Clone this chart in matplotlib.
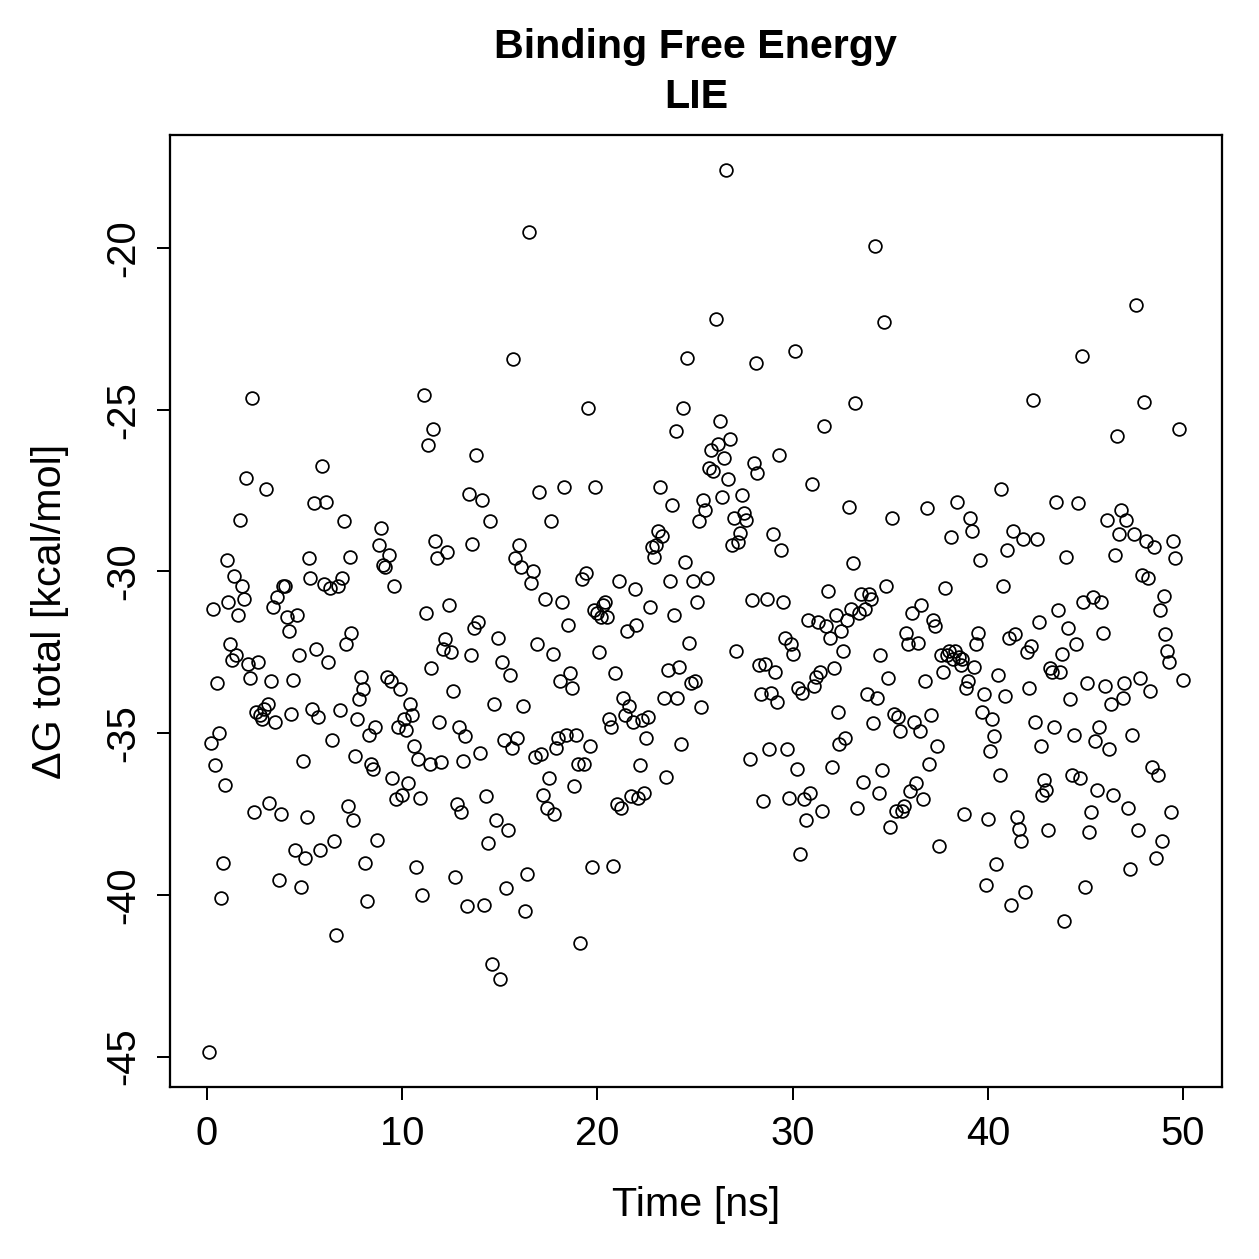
import matplotlib
matplotlib.use("Agg")
import matplotlib.pyplot as plt

plt.rcParams['font.family'] = ['Liberation Sans', 'DejaVu Sans']

# time (ns) and LIE binding free energy (kcal/mol)
time = [0.1, 0.2, 0.3, 0.4, 0.5, 0.6, 0.7, 0.8, 0.9, 1.0,
        1.1, 1.2, 1.3, 1.4, 1.5, 1.6, 1.7, 1.8, 1.9, 2.0,
        2.1, 2.2, 2.3, 2.4, 2.5, 2.6, 2.7, 2.8, 2.9, 3.0,
        3.1, 3.2, 3.3, 3.4, 3.5, 3.6, 3.7, 3.8, 3.9, 4.0,
        4.1, 4.2, 4.3, 4.4, 4.5, 4.6, 4.7, 4.8, 4.9, 5.0,
        5.1, 5.2, 5.3, 5.4, 5.5, 5.6, 5.7, 5.8, 5.9, 6.0,
        6.1, 6.2, 6.3, 6.4, 6.5, 6.6, 6.7, 6.8, 6.9, 7.0,
        7.1, 7.2, 7.3, 7.4, 7.5, 7.6, 7.7, 7.8, 7.9, 8.0,
        8.1, 8.2, 8.3, 8.4, 8.5, 8.6, 8.7, 8.8, 8.9, 9.0,
        9.1, 9.2, 9.3, 9.4, 9.5, 9.6, 9.7, 9.8, 9.9, 10.0,
        10.1, 10.2, 10.3, 10.4, 10.5, 10.6, 10.7, 10.8, 10.9, 11.0,
        11.1, 11.2, 11.3, 11.4, 11.5, 11.6, 11.7, 11.8, 11.9, 12.0,
        12.1, 12.2, 12.3, 12.4, 12.5, 12.6, 12.7, 12.8, 12.9, 13.0,
        13.1, 13.2, 13.3, 13.4, 13.5, 13.6, 13.7, 13.8, 13.9, 14.0,
        14.1, 14.2, 14.3, 14.4, 14.5, 14.6, 14.7, 14.8, 14.9, 15.0,
        15.1, 15.2, 15.3, 15.4, 15.5, 15.6, 15.7, 15.8, 15.9, 16.0,
        16.1, 16.2, 16.3, 16.4, 16.5, 16.6, 16.7, 16.8, 16.9, 17.0,
        17.1, 17.2, 17.3, 17.4, 17.5, 17.6, 17.7, 17.8, 17.9, 18.0,
        18.1, 18.2, 18.3, 18.4, 18.5, 18.6, 18.7, 18.8, 18.9, 19.0,
        19.1, 19.2, 19.3, 19.4, 19.5, 19.6, 19.7, 19.8, 19.9, 20.0,
        20.1, 20.2, 20.3, 20.4, 20.5, 20.6, 20.7, 20.8, 20.9, 21.0,
        21.1, 21.2, 21.3, 21.4, 21.5, 21.6, 21.7, 21.8, 21.9, 22.0,
        22.1, 22.2, 22.3, 22.4, 22.5, 22.6, 22.7, 22.8, 22.9, 23.0,
        23.1, 23.2, 23.3, 23.4, 23.5, 23.6, 23.7, 23.8, 23.9, 24.0,
        24.1, 24.2, 24.3, 24.4, 24.5, 24.6, 24.7, 24.8, 24.9, 25.0,
        25.1, 25.2, 25.3, 25.4, 25.5, 25.6, 25.7, 25.8, 25.9, 26.1,
        26.2, 26.3, 26.4, 26.5, 26.6, 26.7, 26.8, 26.9, 27.0, 27.1,
        27.2, 27.3, 27.4, 27.5, 27.6, 27.8, 27.9, 28.0, 28.1, 28.2,
        28.3, 28.4, 28.5, 28.6, 28.7, 28.8, 28.9, 29.0, 29.1, 29.2,
        29.3, 29.4, 29.5, 29.6, 29.7, 29.8, 29.9, 30.0, 30.1, 30.2,
        30.3, 30.4, 30.5, 30.6, 30.7, 30.8, 30.9, 31.0, 31.1, 31.2,
        31.3, 31.4, 31.5, 31.6, 31.7, 31.8, 31.9, 32.0, 32.1, 32.2,
        32.3, 32.4, 32.5, 32.6, 32.7, 32.8, 32.9, 33.0, 33.1, 33.2,
        33.3, 33.4, 33.5, 33.6, 33.7, 33.8, 33.9, 34.0, 34.1, 34.2,
        34.3, 34.4, 34.5, 34.6, 34.7, 34.8, 34.9, 35.0, 35.1, 35.2,
        35.3, 35.4, 35.5, 35.6, 35.7, 35.8, 35.9, 36.0, 36.1, 36.2,
        36.3, 36.4, 36.5, 36.6, 36.7, 36.8, 36.9, 37.0, 37.1, 37.2,
        37.3, 37.4, 37.5, 37.6, 37.7, 37.8, 37.9, 38.0, 38.1, 38.2,
        38.3, 38.4, 38.5, 38.6, 38.7, 38.8, 38.9, 39.0, 39.1, 39.2,
        39.3, 39.4, 39.5, 39.6, 39.7, 39.8, 39.9, 40.0, 40.1, 40.2,
        40.3, 40.4, 40.5, 40.6, 40.7, 40.8, 40.9, 41.0, 41.1, 41.2,
        41.3, 41.4, 41.5, 41.6, 41.7, 41.8, 41.9, 42.0, 42.1, 42.2,
        42.3, 42.4, 42.5, 42.6, 42.7, 42.8, 42.9, 43.0, 43.1, 43.2,
        43.3, 43.4, 43.5, 43.6, 43.7, 43.8, 43.9, 44.0, 44.1, 44.2,
        44.3, 44.4, 44.5, 44.6, 44.7, 44.8, 44.9, 45.0, 45.1, 45.2,
        45.3, 45.4, 45.5, 45.6, 45.7, 45.8, 45.9, 46.0, 46.1, 46.2,
        46.3, 46.4, 46.5, 46.6, 46.7, 46.8, 46.9, 47.0, 47.1, 47.2,
        47.3, 47.4, 47.5, 47.6, 47.7, 47.8, 47.9, 48.0, 48.1, 48.2,
        48.3, 48.4, 48.5, 48.6, 48.7, 48.8, 48.9, 49.0, 49.1, 49.2,
        49.3, 49.4, 49.5, 49.6, 49.8, 50.0]

dg_total = [-44.85, -35.3, -31.15, -36.0, -33.45, -35.0, -40.1, -39.0, -36.6, -29.65,
            -30.95, -32.25, -32.75, -30.15, -32.6, -31.35, -28.4, -30.45, -30.85, -27.1,
            -32.85, -33.3, -24.65, -37.45, -34.35, -32.8, -34.45, -34.55, -34.25, -27.45,
            -34.1, -37.15, -33.4, -31.1, -34.65, -30.8, -39.55, -37.5, -30.45, -30.45,
            -31.4, -31.85, -34.4, -33.35, -38.6, -31.35, -32.6, -39.75, -35.85, -38.85,
            -37.6, -29.6, -30.2, -34.25, -27.9, -32.4, -34.5, -38.6, -26.75, -30.4,
            -27.85, -32.8, -30.5, -35.2, -38.35, -41.25, -30.45, -34.3, -30.2, -28.45,
            -32.25, -37.25, -29.55, -31.9, -37.7, -35.7, -34.55, -33.95, -33.25, -33.65,
            -39.0, -40.2, -35.05, -35.95, -36.1, -34.8, -38.3, -29.2, -28.65, -29.8,
            -29.85, -33.25, -29.5, -33.4, -36.4, -30.45, -37.05, -34.8, -33.65, -36.9,
            -34.55, -34.9, -36.55, -34.1, -34.45, -35.4, -39.15, -35.8, -37.0, -40.0,
            -24.55, -31.3, -26.1, -35.95, -33.0, -25.6, -29.05, -29.6, -34.65, -35.9,
            -32.4, -32.1, -29.4, -31.05, -32.5, -33.7, -39.45, -37.2, -34.8, -37.45,
            -35.85, -35.1, -40.35, -27.6, -32.6, -29.15, -31.75, -26.4, -31.55, -35.6,
            -27.8, -40.3, -36.95, -38.4, -28.45, -42.15, -34.1, -37.7, -32.05, -42.6,
            -32.8, -35.2, -39.8, -38.0, -33.2, -35.45, -23.45, -29.6, -35.15, -29.2,
            -29.85, -34.15, -40.5, -39.35, -19.5, -30.35, -30.0, -35.75, -32.25, -27.55,
            -35.65, -36.9, -30.85, -37.3, -36.4, -28.45, -32.55, -37.5, -35.45, -35.15,
            -33.4, -30.95, -27.4, -35.05, -31.65, -33.15, -33.6, -36.65, -35.05, -35.95,
            -41.5, -30.25, -35.95, -30.05, -24.95, -35.4, -39.15, -31.2, -27.4, -31.3,
            -32.5, -31.4, -31.05, -30.95, -31.4, -34.55, -34.8, -39.1, -33.15, -37.2,
            -30.3, -37.3, -33.9, -34.45, -31.85, -34.15, -36.95, -34.65, -30.55, -31.65,
            -37.0, -36.0, -34.6, -36.85, -35.15, -34.5, -31.1, -29.25, -29.55, -29.2,
            -28.75, -27.4, -28.9, -33.9, -36.35, -33.05, -30.3, -27.95, -31.35, -25.65,
            -33.9, -32.95, -35.35, -24.95, -29.7, -23.4, -32.2, -33.45, -30.3, -33.4,
            -30.95, -28.45, -34.2, -27.8, -28.1, -30.2, -26.8, -26.25, -26.9, -22.2,
            -26.05, -25.35, -27.7, -26.5, -17.6, -27.15, -25.9, -29.2, -28.35, -32.45,
            -29.1, -28.8, -27.65, -28.2, -28.4, -35.8, -30.9, -26.65, -23.55, -26.95,
            -32.9, -33.8, -37.1, -32.85, -30.85, -35.5, -33.75, -28.85, -33.1, -34.05,
            -26.4, -29.35, -30.95, -32.05, -35.5, -37.0, -32.25, -32.55, -23.2, -36.1,
            -33.6, -38.75, -33.75, -37.05, -37.7, -31.5, -36.85, -27.3, -33.55, -33.25,
            -31.55, -33.1, -37.4, -25.5, -31.7, -30.6, -32.05, -36.05, -33.0, -31.35,
            -34.35, -35.35, -31.85, -32.45, -35.15, -31.5, -28.0, -31.15, -29.75, -24.8,
            -37.3, -31.3, -30.7, -36.5, -31.15, -33.8, -30.7, -30.85, -34.7, -19.95,
            -33.9, -36.85, -32.6, -36.15, -22.3, -30.45, -33.3, -37.9, -28.35, -34.4,
            -37.4, -34.5, -34.95, -37.4, -37.25, -31.9, -32.25, -36.8, -31.3, -34.65,
            -36.55, -32.2, -34.95, -31.05, -37.05, -33.4, -28.05, -35.95, -34.45, -31.5,
            -31.7, -35.4, -38.5, -32.6, -33.1, -30.5, -32.6, -32.45, -28.95, -32.7,
            -32.45, -27.85, -32.65, -32.9, -32.7, -37.5, -33.6, -33.4, -28.35, -28.75,
            -32.95, -32.25, -31.9, -29.65, -34.35, -33.8, -39.7, -37.65, -35.55, -34.55,
            -35.1, -39.05, -33.2, -36.3, -27.45, -30.45, -33.85, -29.35, -32.05, -40.3,
            -28.75, -31.95, -37.6, -37.95, -38.35, -29.0, -39.9, -32.5, -33.6, -32.3,
            -24.7, -34.65, -29.0, -31.55, -35.4, -36.9, -36.45, -36.75, -38.0, -33.0,
            -33.1, -34.8, -27.85, -31.2, -33.1, -32.55, -40.8, -29.55, -31.75, -33.95,
            -36.3, -35.05, -32.25, -27.9, -36.4, -23.35, -30.95, -39.75, -33.45, -38.05,
            -37.45, -30.8, -35.25, -36.75, -34.8, -30.95, -31.9, -33.55, -28.4, -35.5,
            -34.1, -36.9, -29.5, -25.8, -28.85, -28.1, -33.9, -33.45, -28.4, -37.3,
            -39.2, -35.05, -28.85, -21.75, -38.0, -33.3, -30.1, -24.75, -29.05, -30.2,
            -33.7, -36.05, -29.25, -38.85, -36.3, -31.2, -38.35, -30.75, -31.95, -32.45,
            -32.8, -37.45, -29.05, -29.6, -25.6, -33.35]

x_ticks = [0, 10, 20, 30, 40, 50]
y_ticks = [-45, -40, -35, -30, -25, -20]

fig = plt.figure(figsize=(1259 / 180, 1259 / 180), dpi=180)
ax = fig.add_axes([170 / 1259, 1 - 1087 / 1259, 1052 / 1259, 952 / 1259])

ax.plot(time, dg_total, linestyle='none', marker='o', markersize=5.1,
        markerfacecolor='none', markeredgecolor='black', markeredgewidth=0.7)

# R style 4% padding around the data range
xr = max(time) - min(time)
yr = max(dg_total) - min(dg_total)
ax.set_xlim(min(time) - 0.04 * xr, max(time) + 0.04 * xr)
ax.set_ylim(min(dg_total) - 0.04 * yr, max(dg_total) + 0.04 * yr)

ax.set_xticks(x_ticks)
ax.set_yticks(y_ticks)
ax.set_yticklabels([str(v) for v in y_ticks], rotation=90, va='center')
ax.tick_params(direction='out', length=5.2, width=0.8, labelsize=16, pad=6, color='black')
for s in ax.spines.values():
    s.set_linewidth(0.9)

ax.set_xlabel('Time [ns]', fontsize=16.5)
ax.set_ylabel('\u0394G total [kcal/mol]', fontsize=16.5)
ax.xaxis.set_label_coords(0.5, -0.124)
ax.yaxis.set_label_coords(-0.114, 0.5)
ax.xaxis.label.set_va('center')
ax.yaxis.label.set_va('center')

fig.text(0.5528, 1 - 58 / 1259, 'Binding Free Energy', ha='center', va='baseline',
         fontsize=16.5, fontweight='bold')
fig.text(0.5528, 1 - 108 / 1259, 'LIE', ha='center', va='baseline',
         fontsize=16.5, fontweight='bold')

fig.savefig('out.png', dpi=180)
